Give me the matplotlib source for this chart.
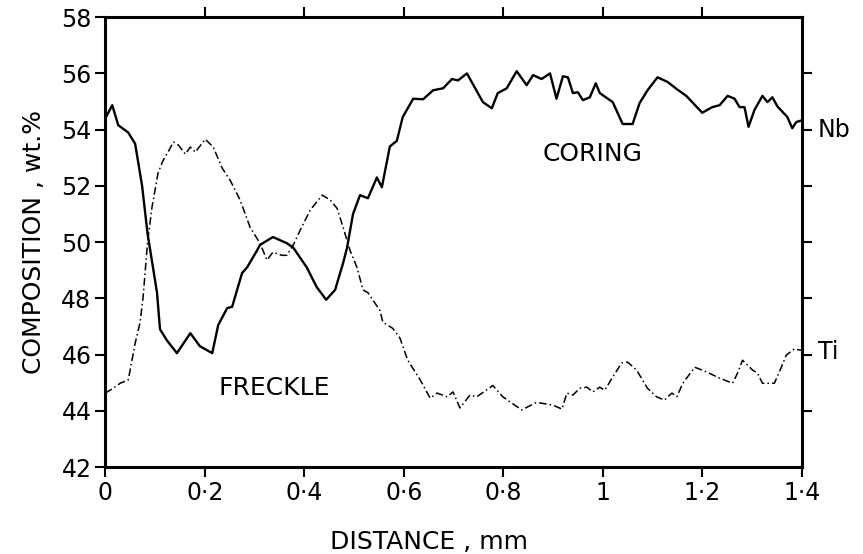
import numpy as np
import matplotlib.pyplot as plt

# Nb trace (solid)
nb_x = [0.0, 0.014, 0.026, 0.046, 0.06, 0.074, 0.085, 0.104, 0.11, 0.124, 0.144, 0.171,
        0.19, 0.215, 0.227, 0.245, 0.255, 0.275, 0.285, 0.305, 0.311, 0.337, 0.365, 0.378,
        0.405, 0.425, 0.444, 0.462, 0.478, 0.486, 0.498, 0.512, 0.528, 0.546, 0.556, 0.572,
        0.586, 0.598, 0.619, 0.639, 0.659, 0.679, 0.697, 0.709, 0.727, 0.759, 0.777, 0.789,
        0.807, 0.827, 0.847, 0.86, 0.877, 0.894, 0.907, 0.92, 0.93, 0.94, 0.95, 0.96,
        0.974, 0.986, 0.994, 1.02, 1.04, 1.06, 1.074, 1.09, 1.11, 1.13, 1.149, 1.168,
        1.2, 1.22, 1.235, 1.251, 1.265, 1.275, 1.285, 1.293, 1.305, 1.321, 1.331, 1.341,
        1.351, 1.371, 1.381, 1.389, 1.4]
nb_y = [54.4, 54.87, 54.16, 53.9, 53.5, 52.0, 50.3, 48.2, 46.9, 46.5, 46.05, 46.76,
        46.3, 46.05, 47.05, 47.65, 47.7, 48.9, 49.1, 49.7, 49.9, 50.18, 49.96, 49.8,
        49.1, 48.4, 47.95, 48.3, 49.25, 49.8, 51.0, 51.67, 51.56, 52.3, 51.95, 53.4,
        53.6, 54.45, 55.1, 55.08, 55.4, 55.47, 55.8, 55.75, 56.0, 54.98, 54.76, 55.3,
        55.47, 56.08, 55.58, 55.94, 55.8, 56.0, 55.1, 55.9, 55.86, 55.3, 55.33, 55.05,
        55.15, 55.65, 55.3, 54.98, 54.2, 54.2, 54.94, 55.4, 55.86, 55.7, 55.44, 55.2,
        54.6, 54.8, 54.87, 55.2, 55.1, 54.8, 54.8, 54.1, 54.7, 55.2, 54.98, 55.15,
        54.83, 54.45, 54.05, 54.27, 54.33]

# Ti trace (dash-dot)
ti_x = [0.0, 0.016, 0.03, 0.046, 0.05, 0.06, 0.07, 0.076, 0.085, 0.094, 0.106, 0.116,
        0.126, 0.137, 0.147, 0.161, 0.171, 0.181, 0.201, 0.217, 0.235, 0.251, 0.271, 0.291,
        0.311, 0.325, 0.337, 0.355, 0.365, 0.378, 0.392, 0.412, 0.436, 0.452, 0.466, 0.478,
        0.492, 0.506, 0.518, 0.528, 0.552, 0.558, 0.578, 0.592, 0.608, 0.633, 0.653, 0.667,
        0.687, 0.699, 0.713, 0.733, 0.747, 0.779, 0.799, 0.837, 0.867, 0.9, 0.918, 0.928,
        0.94, 0.954, 0.968, 0.98, 0.994, 1.004, 1.02, 1.038, 1.05, 1.068, 1.09, 1.108,
        1.124, 1.139, 1.149, 1.161, 1.185, 1.209, 1.235, 1.261, 1.271, 1.281, 1.301, 1.311,
        1.321, 1.345, 1.359, 1.369, 1.385, 1.4]
ti_y = [44.63, 44.8, 44.98, 45.1, 45.45, 46.4, 47.15, 48.04, 50.0, 51.25, 52.45, 52.9,
        53.2, 53.56, 53.45, 53.13, 53.38, 53.2, 53.66, 53.38, 52.63, 52.2, 51.5, 50.53,
        49.96, 49.36, 49.64, 49.53, 49.53, 49.9, 50.43, 51.14, 51.67, 51.5, 51.2, 50.53,
        49.7, 49.1, 48.3, 48.2, 47.57, 47.15, 46.93, 46.6, 45.8, 45.1, 44.45, 44.63,
        44.5, 44.67, 44.1, 44.56, 44.5, 44.9, 44.5, 44.03, 44.3, 44.2, 44.06, 44.63,
        44.56, 44.8, 44.84, 44.67, 44.84, 44.73, 45.2, 45.7, 45.73, 45.45, 44.8, 44.5,
        44.38, 44.63, 44.5, 44.98, 45.55, 45.38, 45.16, 44.98, 45.34, 45.8, 45.45, 45.34,
        44.98, 44.98, 45.55, 45.98, 46.2, 46.15]

x_ticks = [0, 0.2, 0.4, 0.6, 0.8, 1.0, 1.2, 1.4]
x_labels = ['0', '0·2', '0·4', '0·6', '0·8', '1', '1·2', '1·4']
y_ticks = [42, 44, 46, 48, 50, 52, 54, 56, 58]

fig = plt.figure(figsize=(8.63, 5.54), dpi=100)
ax = fig.add_axes([0.122, 0.157, 0.807, 0.812])

ax.plot(nb_x, nb_y, color='black', lw=1.7)
ax.plot(ti_x, ti_y, color='black', lw=1.1, linestyle=(0, (5, 2, 1, 2)))

ax.set_xlim(0, 1.4)
ax.set_ylim(42, 58)
ax.set_xticks(x_ticks)
ax.set_xticklabels(x_labels)
ax.set_yticks(y_ticks)
ax.tick_params(direction='out', length=7, width=1.5, labelsize=17, pad=3)

for s in ax.spines.values():
    s.set_linewidth(2.2)

# top ticks (no labels)
top = ax.secondary_xaxis('top')
top.set_xticks(x_ticks[1:-1])
top.set_xticklabels([])
top.tick_params(direction='out', length=7, width=1.5)
top.spines['top'].set_visible(False)

# right ticks (no labels)
right = ax.secondary_yaxis('right')
right.set_yticks(y_ticks[1:-1])
right.set_yticklabels([])
right.tick_params(direction='out', length=7, width=1.5)
right.spines['right'].set_visible(False)

ax.text(1.432, 54.0, 'Nb', fontsize=17, va='center', ha='left', clip_on=False)
ax.text(1.432, 46.1, 'Ti', fontsize=17, va='center', ha='left', clip_on=False)
ax.text(0.34, 44.8, 'FRECKLE', fontsize=18, ha='center', va='center')
ax.text(0.98, 53.15, 'CORING', fontsize=18, ha='center', va='center')

ax.set_xlabel('DISTANCE , mm', fontsize=18, labelpad=18)
ax.xaxis.label.set_x(0.465)
ax.set_ylabel('COMPOSITION , wt.%', fontsize=18, labelpad=11)

fig.savefig('out.png', dpi=100)
